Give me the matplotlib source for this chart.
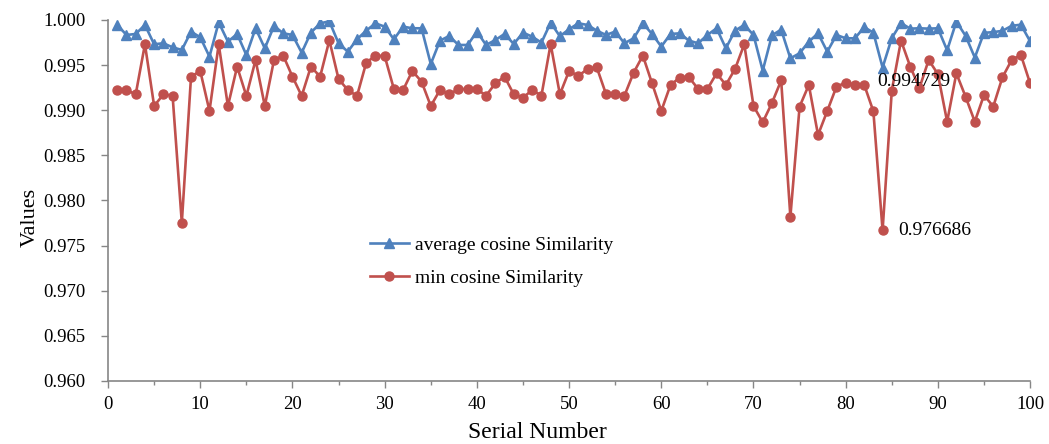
import numpy as np
import matplotlib as mpl
mpl.use('Agg')
mpl.rcParams.update({'font.family': 'serif', 'font.serif': ['Liberation Serif', 'DejaVu Serif'],
                     'font.size': 13})
from matplotlib import pyplot as plt
from matplotlib.ticker import MultipleLocator, FormatStrFormatter

serial = np.arange(1, 101)

avg_sim = [
    0.99945, 0.99834, 0.99845, 0.99945, 0.99731, 0.99742, 0.99697, 0.99668, 0.99871, 0.99808,
    0.99594, 0.99974, 0.99760, 0.99845, 0.99612, 0.99908, 0.99686, 0.99934, 0.99852, 0.99834,
    0.99638, 0.99860, 0.99963, 0.99985, 0.99742, 0.99649, 0.99786, 0.99882, 0.99963, 0.99926,
    0.99786, 0.99926, 0.99908, 0.99908, 0.99512, 0.99771, 0.99823, 0.99723, 0.99723, 0.99871,
    0.99723, 0.99778, 0.99845, 0.99734, 0.99860, 0.99815, 0.99749, 0.99970, 0.99820, 0.99897,
    0.99963, 0.99945, 0.99882, 0.99834, 0.99871, 0.99742, 0.99797, 0.99963, 0.99845, 0.99705,
    0.99845, 0.99852, 0.99771, 0.99742, 0.99834, 0.99908, 0.99686, 0.99882, 0.99945, 0.99834,
    0.99439, 0.99830, 0.99893, 0.99575, 0.99631, 0.99760, 0.99852, 0.99649, 0.99834, 0.99797,
    0.99797, 0.99920, 0.99860, 0.994729, 0.99800, 0.99965, 0.99904, 0.99908, 0.99904, 0.99908,
    0.99664, 0.99982, 0.99825, 0.99584, 0.99858, 0.99865, 0.99880, 0.99935, 0.99948, 0.99764,
]

min_sim = [
    0.99224, 0.99224, 0.99176, 0.99731, 0.99047, 0.99176, 0.99161, 0.97754, 0.99372, 0.99435,
    0.98992, 0.99731, 0.99047, 0.99483, 0.99158, 0.99557, 0.99047, 0.99557, 0.99605, 0.99372,
    0.99158, 0.99483, 0.99372, 0.99775, 0.99346, 0.99224, 0.99158, 0.99527, 0.99605, 0.99601,
    0.99235, 0.99224, 0.99435, 0.99317, 0.99047, 0.99224, 0.99176, 0.99235, 0.99235, 0.99235,
    0.99161, 0.99298, 0.99372, 0.99176, 0.99139, 0.99224, 0.99161, 0.99733, 0.99176, 0.99435,
    0.99380, 0.99457, 0.99476, 0.99180, 0.99180, 0.99161, 0.99416, 0.99605, 0.99298, 0.98992,
    0.99280, 0.99361, 0.99365, 0.99235, 0.99235, 0.99409, 0.99280, 0.99457, 0.99731, 0.99047,
    0.98866, 0.99080, 0.99330, 0.97820, 0.99040, 0.99280, 0.98726, 0.98992, 0.99261, 0.99306,
    0.99280, 0.99284, 0.98988, 0.976686, 0.99218, 0.99772, 0.99483, 0.99247, 0.99557, 0.99400,
    0.98873, 0.99409, 0.99150, 0.98873, 0.99169, 0.99040, 0.99365, 0.99557, 0.99612, 0.99298,
]

# labelled points (index into the series)
label_idx = 83

blue = '#4F81BD'
red = '#C0504D'
axis_col = '#868686'

fig = plt.figure(figsize=(10.49, 4.44), dpi=100)
ax = fig.add_axes([0.103, 0.142, 0.879, 0.813])

ax.plot(serial, avg_sim, color=blue, lw=1.9, marker='^', ms=6.5, label='average cosine Similarity')
ax.plot(serial, min_sim, color=red, lw=1.9, marker='o', ms=6.5, label='min cosine Similarity')

ax.text(serial[label_idx] - 0.6, avg_sim[label_idx] - 0.00152, '%.6f' % avg_sim[label_idx],
        ha='left', va='center', fontsize=14)
ax.text(serial[label_idx] + 1.7, min_sim[label_idx] - 0.00006, '%.6f' % min_sim[label_idx],
        ha='left', va='center', fontsize=14)

ax.set_xlim(0, 100)
ax.set_ylim(0.960, 1.000)
ax.xaxis.set_major_locator(MultipleLocator(10))
ax.xaxis.set_minor_locator(MultipleLocator(5))
ax.yaxis.set_major_locator(MultipleLocator(0.005))
ax.yaxis.set_major_formatter(FormatStrFormatter('%.3f'))

for s in ['top', 'right']:
    ax.spines[s].set_visible(False)
for s in ['left', 'bottom']:
    ax.spines[s].set_color(axis_col)
    ax.spines[s].set_linewidth(1.2)
ax.tick_params(which='both', direction='out', color=axis_col, width=1.0)
ax.tick_params(which='major', length=5, labelsize=13.5)
ax.tick_params(axis='x', which='major', pad=6)
ax.tick_params(axis='y', which='major', pad=11)
ax.tick_params(which='minor', length=3)

ax.set_xlabel('Serial Number', fontsize=17)
ax.xaxis.set_label_coords(0.466, -0.115)
ax.set_ylabel('Values', fontsize=16)
ax.yaxis.set_label_coords(-0.074, 0.452)

ax.legend(loc='upper left', bbox_to_anchor=(0.265, 0.45), frameon=False, fontsize=14,
          handlelength=2.0, handletextpad=0.3, labelspacing=0.8)

fig.savefig('out.png', dpi=100)
